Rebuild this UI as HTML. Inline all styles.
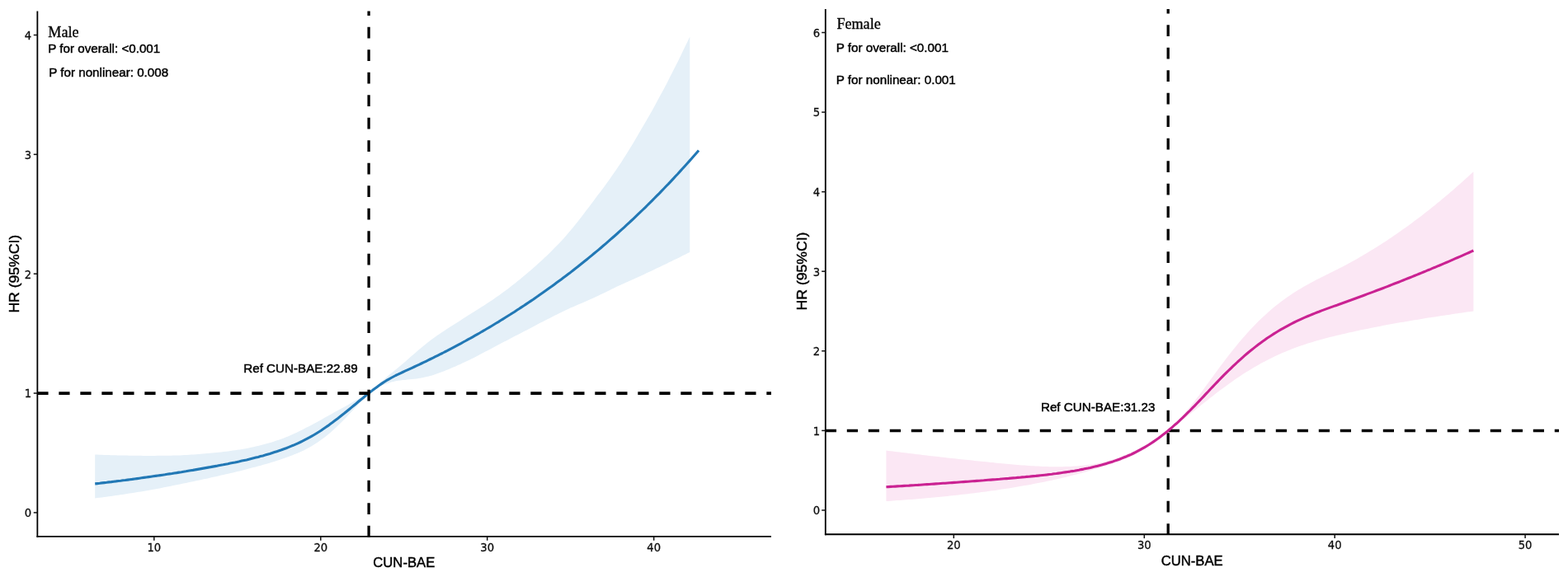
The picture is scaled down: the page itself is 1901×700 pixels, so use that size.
<!DOCTYPE html>
<html lang="en">
<head>
<meta charset="utf-8">
<title>Restricted cubic spline: CUN-BAE and HR (95%CI) by sex</title>
<style>
html,body{margin:0;padding:0;background:#fff;}
body{width:1901px;height:700px;overflow:hidden;}
svg{display:block;font-family:"Liberation Sans", Arial, Helvetica, sans-serif;}
</style>
</head>
<body>
<svg width="1901" height="700" viewBox="0 0 1901 700">
<rect x="0" y="0" width="1901" height="700" fill="#ffffff"/>
<g id="male">
<path d="M115.2,551.4 L118.0,551.6 L120.8,551.7 L123.6,551.8 L126.3,551.9 L129.1,552.0 L131.9,552.1 L134.7,552.2 L137.5,552.2 L140.3,552.3 L143.0,552.4 L145.8,552.5 L148.6,552.5 L151.4,552.6 L154.2,552.6 L157.0,552.7 L159.7,552.7 L162.5,552.8 L165.3,552.8 L168.1,552.8 L170.9,552.8 L173.7,552.9 L176.5,552.9 L179.2,552.9 L182.0,552.9 L184.8,552.9 L187.6,552.9 L190.4,552.8 L193.2,552.8 L195.9,552.8 L198.7,552.8 L201.5,552.8 L204.3,552.7 L207.1,552.7 L209.9,552.6 L212.6,552.6 L215.4,552.5 L218.2,552.4 L221.0,552.2 L223.8,552.1 L226.6,552.0 L229.4,551.8 L232.1,551.6 L234.9,551.4 L237.7,551.2 L240.5,551.0 L243.3,550.8 L246.1,550.6 L248.8,550.3 L251.6,550.1 L254.4,549.8 L257.2,549.5 L260.0,549.3 L262.8,549.0 L265.5,548.7 L268.3,548.4 L271.1,548.0 L273.9,547.7 L276.7,547.4 L279.5,547.0 L282.3,546.6 L285.0,546.2 L287.8,545.8 L290.6,545.4 L293.4,544.9 L296.2,544.4 L299.0,543.9 L301.7,543.4 L304.5,542.8 L307.3,542.2 L310.1,541.6 L312.9,541.0 L315.7,540.3 L318.4,539.6 L321.2,538.8 L324.0,538.1 L326.8,537.2 L329.6,536.4 L332.4,535.5 L335.1,534.6 L337.9,533.7 L340.7,532.7 L343.5,531.7 L346.3,530.6 L349.1,529.5 L351.9,528.3 L354.6,527.0 L357.4,525.8 L360.2,524.5 L363.0,523.1 L365.8,521.7 L368.6,520.3 L371.3,518.8 L374.1,517.4 L376.9,515.9 L379.7,514.5 L382.5,513.0 L385.3,511.5 L388.0,510.0 L390.8,508.4 L393.6,506.8 L396.4,505.2 L399.2,503.7 L402.0,502.2 L404.8,500.6 L407.5,499.1 L410.3,497.6 L413.1,496.0 L415.9,494.5 L418.7,492.9 L421.5,491.4 L424.2,489.8 L427.0,488.2 L429.8,486.6 L432.6,485.0 L435.4,483.4 L438.2,481.9 L440.9,480.6 L443.7,479.2 L446.5,477.5 L447.1,477.1 L449.3,475.2 L452.1,472.8 L454.9,470.2 L457.7,467.5 L460.4,464.9 L463.2,462.3 L466.0,459.8 L468.8,457.5 L471.6,455.1 L474.4,452.8 L477.1,450.6 L479.9,448.3 L482.7,446.0 L485.5,443.7 L488.3,441.3 L491.1,438.9 L493.8,436.5 L496.6,434.1 L499.4,431.6 L502.2,429.2 L505.0,426.7 L507.8,424.3 L510.6,422.0 L513.3,419.7 L516.1,417.4 L518.9,415.2 L521.7,413.1 L524.5,411.0 L527.3,409.1 L530.0,407.1 L532.8,405.2 L535.6,403.3 L538.4,401.5 L541.2,399.6 L544.0,397.8 L546.7,396.1 L549.5,394.3 L552.3,392.5 L555.1,390.7 L557.9,388.9 L560.7,387.1 L563.5,385.3 L566.2,383.5 L569.0,381.7 L571.8,380.0 L574.6,378.2 L577.4,376.5 L580.2,374.7 L582.9,373.0 L585.7,371.2 L588.5,369.4 L591.3,367.6 L594.1,365.8 L596.9,363.9 L599.6,362.0 L602.4,360.1 L605.2,358.2 L608.0,356.1 L610.8,354.1 L613.6,352.0 L616.4,349.9 L619.1,347.8 L621.9,345.6 L624.7,343.4 L627.5,341.1 L630.3,338.9 L633.1,336.6 L635.8,334.3 L638.6,332.0 L641.4,329.6 L644.2,327.2 L647.0,324.8 L649.8,322.3 L652.5,319.8 L655.3,317.3 L658.1,314.7 L660.9,312.1 L663.7,309.4 L666.5,306.7 L669.2,303.9 L672.0,301.1 L674.8,298.2 L677.6,295.4 L680.4,292.4 L683.2,289.4 L686.0,286.3 L688.7,283.1 L691.5,279.8 L694.3,276.5 L697.1,273.0 L699.9,269.5 L702.7,266.0 L705.4,262.4 L708.2,258.7 L711.0,255.1 L713.8,251.4 L716.6,247.7 L719.4,244.0 L722.1,240.3 L724.9,236.6 L727.7,232.9 L730.5,229.2 L733.3,225.4 L736.1,221.5 L738.9,217.7 L741.6,213.8 L744.4,209.8 L747.2,205.7 L750.0,201.6 L752.8,197.4 L755.6,193.1 L758.3,188.7 L761.1,184.3 L763.9,179.7 L766.7,175.2 L769.5,170.5 L772.3,165.8 L775.0,161.1 L777.8,156.3 L780.6,151.5 L783.4,146.7 L786.2,141.8 L789.0,136.9 L791.8,131.9 L794.5,126.9 L797.3,121.8 L800.1,116.6 L802.9,111.5 L805.7,106.2 L808.5,100.9 L811.2,95.5 L814.0,90.1 L816.8,84.6 L819.6,79.1 L822.4,73.5 L825.2,67.8 L827.9,62.1 L830.7,56.3 L833.5,50.5 L836.3,44.6 L836.3,305.9 L833.5,307.3 L830.7,308.7 L827.9,310.1 L825.2,311.5 L822.4,312.9 L819.6,314.2 L816.8,315.6 L814.0,316.9 L811.2,318.3 L808.5,319.7 L805.7,321.0 L802.9,322.3 L800.1,323.7 L797.3,325.0 L794.5,326.3 L791.8,327.7 L789.0,329.0 L786.2,330.3 L783.4,331.6 L780.6,332.9 L777.8,334.2 L775.0,335.4 L772.3,336.7 L769.5,337.9 L766.7,339.2 L763.9,340.4 L761.1,341.7 L758.3,342.9 L755.6,344.2 L752.8,345.5 L750.0,346.8 L747.2,348.1 L744.4,349.4 L741.6,350.8 L738.9,352.2 L736.1,353.5 L733.3,354.9 L730.5,356.3 L727.7,357.6 L724.9,358.9 L722.1,360.3 L719.4,361.6 L716.6,362.8 L713.8,364.1 L711.0,365.3 L708.2,366.5 L705.4,367.7 L702.7,368.8 L699.9,370.0 L697.1,371.2 L694.3,372.4 L691.5,373.6 L688.7,374.9 L686.0,376.2 L683.2,377.5 L680.4,378.9 L677.6,380.3 L674.8,381.7 L672.0,383.1 L669.2,384.5 L666.5,385.9 L663.7,387.3 L660.9,388.7 L658.1,390.2 L655.3,391.6 L652.5,393.0 L649.8,394.5 L647.0,396.0 L644.2,397.4 L641.4,398.9 L638.6,400.4 L635.8,401.8 L633.1,403.3 L630.3,404.7 L627.5,406.2 L624.7,407.6 L621.9,409.1 L619.1,410.5 L616.4,412.0 L613.6,413.4 L610.8,414.8 L608.0,416.3 L605.2,417.7 L602.4,419.2 L599.6,420.7 L596.9,422.2 L594.1,423.7 L591.3,425.2 L588.5,426.6 L585.7,428.1 L582.9,429.6 L580.2,431.1 L577.4,432.5 L574.6,433.9 L571.8,435.3 L569.0,436.7 L566.2,438.0 L563.5,439.3 L560.7,440.6 L557.9,441.9 L555.1,443.1 L552.3,444.4 L549.5,445.6 L546.7,446.8 L544.0,448.0 L541.2,449.1 L538.4,450.2 L535.6,451.3 L532.8,452.3 L530.0,453.3 L527.3,454.3 L524.5,455.2 L521.7,456.0 L518.9,456.7 L516.1,457.3 L513.3,457.9 L510.6,458.5 L507.8,459.0 L505.0,459.4 L502.2,459.7 L499.4,460.0 L496.6,460.3 L493.8,460.6 L491.1,460.9 L488.3,461.1 L485.5,461.4 L482.7,461.8 L479.9,462.3 L477.1,462.9 L474.4,463.6 L471.6,464.5 L468.8,465.5 L466.0,466.6 L463.2,467.8 L460.4,469.1 L457.7,470.4 L454.9,471.9 L452.1,473.5 L449.3,475.4 L447.1,477.1 L446.5,477.5 L443.7,480.3 L440.9,483.4 L438.2,486.7 L435.4,489.7 L432.6,492.7 L429.8,495.7 L427.0,498.6 L424.2,501.6 L421.5,504.5 L418.7,507.4 L415.9,510.3 L413.1,513.1 L410.3,515.8 L407.5,518.4 L404.8,521.0 L402.0,523.5 L399.2,525.9 L396.4,528.2 L393.6,530.4 L390.8,532.5 L388.0,534.5 L385.3,536.4 L382.5,538.3 L379.7,540.0 L376.9,541.7 L374.1,543.3 L371.3,544.8 L368.6,546.2 L365.8,547.5 L363.0,548.8 L360.2,550.0 L357.4,551.1 L354.6,552.2 L351.9,553.3 L349.1,554.3 L346.3,555.3 L343.5,556.3 L340.7,557.3 L337.9,558.2 L335.1,559.1 L332.4,560.0 L329.6,560.8 L326.8,561.7 L324.0,562.5 L321.2,563.3 L318.4,564.1 L315.7,564.9 L312.9,565.6 L310.1,566.4 L307.3,567.1 L304.5,567.8 L301.7,568.6 L299.0,569.3 L296.2,570.0 L293.4,570.7 L290.6,571.4 L287.8,572.0 L285.0,572.7 L282.3,573.4 L279.5,574.0 L276.7,574.7 L273.9,575.3 L271.1,576.0 L268.3,576.6 L265.5,577.3 L262.8,577.9 L260.0,578.5 L257.2,579.1 L254.4,579.7 L251.6,580.4 L248.8,581.0 L246.1,581.6 L243.3,582.2 L240.5,582.8 L237.7,583.3 L234.9,583.9 L232.1,584.5 L229.4,585.1 L226.6,585.7 L223.8,586.2 L221.0,586.8 L218.2,587.4 L215.4,588.0 L212.6,588.5 L209.9,589.1 L207.1,589.7 L204.3,590.2 L201.5,590.8 L198.7,591.3 L195.9,591.9 L193.2,592.4 L190.4,592.9 L187.6,593.4 L184.8,594.0 L182.0,594.5 L179.2,594.9 L176.5,595.4 L173.7,595.9 L170.9,596.4 L168.1,596.8 L165.3,597.3 L162.5,597.8 L159.7,598.2 L157.0,598.6 L154.2,599.1 L151.4,599.5 L148.6,599.9 L145.8,600.3 L143.0,600.7 L140.3,601.1 L137.5,601.5 L134.7,601.9 L131.9,602.3 L129.1,602.7 L126.3,603.1 L123.6,603.4 L120.8,603.8 L118.0,604.1 L115.2,604.5Z" fill="#e5f0f8" stroke="none"/>
<path d="M115.2,586.9 L118.0,586.6 L120.9,586.3 L123.7,585.9 L126.5,585.6 L129.3,585.3 L132.2,584.9 L135.0,584.6 L137.8,584.2 L140.6,583.9 L143.5,583.5 L146.3,583.2 L149.1,582.8 L151.9,582.5 L154.8,582.1 L157.6,581.7 L160.4,581.4 L163.2,581.0 L166.1,580.6 L168.9,580.2 L171.7,579.8 L174.5,579.4 L177.4,579.0 L180.2,578.6 L183.0,578.2 L185.8,577.8 L188.7,577.4 L191.5,577.0 L194.3,576.6 L197.2,576.2 L200.0,575.8 L202.8,575.3 L205.6,574.9 L208.5,574.5 L211.3,574.0 L214.1,573.6 L216.9,573.1 L219.8,572.7 L222.6,572.2 L225.4,571.8 L228.2,571.3 L231.1,570.8 L233.9,570.4 L236.7,569.9 L239.5,569.4 L242.4,568.9 L245.2,568.4 L248.0,567.9 L250.8,567.4 L253.7,566.9 L256.5,566.4 L259.3,565.9 L262.1,565.4 L265.0,564.8 L267.8,564.3 L270.6,563.8 L273.4,563.2 L276.3,562.7 L279.1,562.1 L281.9,561.5 L284.8,561.0 L287.6,560.4 L290.4,559.8 L293.2,559.1 L296.1,558.5 L298.9,557.9 L301.7,557.2 L304.5,556.5 L307.4,555.8 L310.2,555.1 L313.0,554.4 L315.8,553.6 L318.7,552.9 L321.5,552.1 L324.3,551.2 L327.1,550.4 L330.0,549.5 L332.8,548.6 L335.6,547.7 L338.4,546.8 L341.3,545.8 L344.1,544.7 L346.9,543.7 L349.7,542.6 L352.6,541.4 L355.4,540.3 L358.2,539.1 L361.1,537.8 L363.9,536.5 L366.7,535.1 L369.5,533.7 L372.4,532.2 L375.2,530.7 L378.0,529.1 L380.8,527.5 L383.7,525.7 L386.5,524.0 L389.3,522.2 L392.1,520.3 L395.0,518.3 L397.8,516.4 L400.6,514.3 L403.4,512.3 L406.3,510.1 L409.1,508.0 L411.9,505.8 L414.7,503.5 L417.6,501.3 L420.4,499.0 L423.2,496.7 L426.0,494.4 L428.9,492.0 L431.7,489.7 L434.5,487.3 L437.3,485.0 L440.2,482.7 L443.0,480.3 L445.8,478.1 L448.7,475.8 L451.5,473.6 L454.3,471.5 L457.1,469.4 L460.0,467.3 L462.8,465.4 L465.6,463.5 L468.4,461.7 L471.3,460.1 L474.1,458.5 L476.9,457.0 L479.7,455.5 L482.6,454.2 L485.4,452.8 L488.2,451.5 L491.0,450.2 L493.9,448.9 L496.7,447.6 L499.5,446.3 L502.3,445.0 L505.2,443.7 L508.0,442.4 L510.8,441.0 L513.6,439.7 L516.5,438.3 L519.3,436.9 L522.1,435.5 L525.0,434.2 L527.8,432.7 L530.6,431.3 L533.4,429.9 L536.3,428.5 L539.1,427.0 L541.9,425.6 L544.7,424.1 L547.6,422.6 L550.4,421.1 L553.2,419.6 L556.0,418.1 L558.9,416.6 L561.7,415.0 L564.5,413.5 L567.3,411.9 L570.2,410.4 L573.0,408.8 L575.8,407.2 L578.6,405.6 L581.5,404.0 L584.3,402.3 L587.1,400.7 L589.9,399.0 L592.8,397.4 L595.6,395.7 L598.4,394.0 L601.2,392.3 L604.1,390.6 L606.9,388.8 L609.7,387.1 L612.6,385.3 L615.4,383.5 L618.2,381.8 L621.0,380.0 L623.9,378.2 L626.7,376.3 L629.5,374.5 L632.3,372.6 L635.2,370.8 L638.0,368.9 L640.8,367.0 L643.6,365.1 L646.5,363.2 L649.3,361.2 L652.1,359.3 L654.9,357.3 L657.8,355.3 L660.6,353.3 L663.4,351.3 L666.2,349.3 L669.1,347.3 L671.9,345.2 L674.7,343.1 L677.5,341.0 L680.4,338.9 L683.2,336.8 L686.0,334.7 L688.9,332.5 L691.7,330.4 L694.5,328.2 L697.3,326.0 L700.2,323.8 L703.0,321.5 L705.8,319.3 L708.6,317.0 L711.5,314.7 L714.3,312.4 L717.1,310.1 L719.9,307.8 L722.8,305.4 L725.6,303.1 L728.4,300.7 L731.2,298.3 L734.1,295.8 L736.9,293.4 L739.7,290.9 L742.5,288.5 L745.4,286.0 L748.2,283.5 L751.0,280.9 L753.8,278.4 L756.7,275.8 L759.5,273.2 L762.3,270.6 L765.1,268.0 L768.0,265.3 L770.8,262.6 L773.6,259.9 L776.5,257.2 L779.3,254.5 L782.1,251.8 L784.9,249.0 L787.8,246.2 L790.6,243.4 L793.4,240.5 L796.2,237.7 L799.1,234.8 L801.9,231.9 L804.7,229.0 L807.5,226.0 L810.4,223.1 L813.2,220.1 L816.0,217.1 L818.8,214.0 L821.7,211.0 L824.5,207.9 L827.3,204.8 L830.1,201.7 L833.0,198.5 L835.8,195.4 L838.6,192.2 L841.4,189.0 L844.3,185.7 L847.1,182.5" fill="none" stroke="#2278b5" stroke-width="3.1" stroke-linecap="butt" stroke-linejoin="round"/>
<line x1="45.35" y1="477.05" x2="935" y2="477.05" stroke="#000" stroke-width="3.7" stroke-dasharray="13.2 12.8"/>
<line x1="447.1" y1="651.6" x2="447.1" y2="13.5" stroke="#000" stroke-width="3.3" stroke-dasharray="13.75 13.75"/>
<line x1="45.35" y1="13.5" x2="45.35" y2="651.85" stroke="#000" stroke-width="1.8"/>
<line x1="44.45" y1="650.9" x2="935" y2="650.9" stroke="#000" stroke-width="1.9"/>
<line x1="40.75" y1="42.5" x2="45.35" y2="42.5" stroke="#111" stroke-width="1.5"/>
<text transform="translate(38.2,47.8) scale(0.95,1)" text-anchor="end" font-family='"DejaVu Sans", "Liberation Sans", sans-serif' font-size="13.9" fill="#0d0d0d" stroke="#0d0d0d" stroke-width="0.3">4</text>
<line x1="40.75" y1="187.35" x2="45.35" y2="187.35" stroke="#111" stroke-width="1.5"/>
<text transform="translate(38.2,192.7) scale(0.95,1)" text-anchor="end" font-family='"DejaVu Sans", "Liberation Sans", sans-serif' font-size="13.9" fill="#0d0d0d" stroke="#0d0d0d" stroke-width="0.3">3</text>
<line x1="40.75" y1="332.2" x2="45.35" y2="332.2" stroke="#111" stroke-width="1.5"/>
<text transform="translate(38.2,337.5) scale(0.95,1)" text-anchor="end" font-family='"DejaVu Sans", "Liberation Sans", sans-serif' font-size="13.9" fill="#0d0d0d" stroke="#0d0d0d" stroke-width="0.3">2</text>
<line x1="40.75" y1="477.05" x2="45.35" y2="477.05" stroke="#111" stroke-width="1.5"/>
<text transform="translate(38.2,482.4) scale(0.95,1)" text-anchor="end" font-family='"DejaVu Sans", "Liberation Sans", sans-serif' font-size="13.9" fill="#0d0d0d" stroke="#0d0d0d" stroke-width="0.3">1</text>
<line x1="40.75" y1="621.9" x2="45.35" y2="621.9" stroke="#111" stroke-width="1.5"/>
<text transform="translate(38.2,627.2) scale(0.95,1)" text-anchor="end" font-family='"DejaVu Sans", "Liberation Sans", sans-serif' font-size="13.9" fill="#0d0d0d" stroke="#0d0d0d" stroke-width="0.3">0</text>
<line x1="186.8" y1="650.9" x2="186.8" y2="655.6999999999999" stroke="#111" stroke-width="1.5"/>
<text transform="translate(186.8,669.1) scale(0.95,1)" text-anchor="middle" font-family='"DejaVu Sans", "Liberation Sans", sans-serif' font-size="13.9" fill="#0d0d0d" stroke="#0d0d0d" stroke-width="0.3">10</text>
<line x1="388.8" y1="650.9" x2="388.8" y2="655.6999999999999" stroke="#111" stroke-width="1.5"/>
<text transform="translate(388.8,669.1) scale(0.95,1)" text-anchor="middle" font-family='"DejaVu Sans", "Liberation Sans", sans-serif' font-size="13.9" fill="#0d0d0d" stroke="#0d0d0d" stroke-width="0.3">20</text>
<line x1="590.7" y1="650.9" x2="590.7" y2="655.6999999999999" stroke="#111" stroke-width="1.5"/>
<text transform="translate(590.7,669.1) scale(0.95,1)" text-anchor="middle" font-family='"DejaVu Sans", "Liberation Sans", sans-serif' font-size="13.9" fill="#0d0d0d" stroke="#0d0d0d" stroke-width="0.3">30</text>
<line x1="792.7" y1="650.9" x2="792.7" y2="655.6999999999999" stroke="#111" stroke-width="1.5"/>
<text transform="translate(792.7,669.1) scale(0.95,1)" text-anchor="middle" font-family='"DejaVu Sans", "Liberation Sans", sans-serif' font-size="13.9" fill="#0d0d0d" stroke="#0d0d0d" stroke-width="0.3">40</text>
<text transform="translate(489.8,688.2) scale(0.98,1)" text-anchor="middle" font-size="17" fill="#000" stroke="#000" stroke-width="0.45">CUN-BAE</text>
<text transform="translate(22.9,332.2) rotate(-90) scale(1.035,1)" text-anchor="middle" font-size="17" fill="#000" stroke="#000" stroke-width="0.45">HR (95%CI)</text>
<text transform="translate(58.3,44.8) scale(0.98,1)" font-family='"Liberation Serif", "Times New Roman", serif' font-size="18.5" fill="#000" stroke="#000" stroke-width="0.3">Male</text>
<text x="58.2" y="64.1" font-size="15.2" fill="#000" stroke="#000" stroke-width="0.45">P for overall: &lt;0.001</text>
<text x="59.2" y="93.05" font-size="15.2" fill="#000" stroke="#000" stroke-width="0.45">P for nonlinear: 0.008</text>
<text x="433.7" y="452.4" text-anchor="end" font-size="15.2" fill="#000" stroke="#000" stroke-width="0.45">Ref CUN-BAE:22.89</text>
</g>
<g id="female">
<path d="M1074.4,546.6 L1077.1,546.9 L1079.9,547.3 L1082.6,547.6 L1085.4,548.0 L1088.1,548.3 L1090.9,548.6 L1093.6,549.0 L1096.4,549.3 L1099.1,549.6 L1101.9,550.0 L1104.6,550.3 L1107.4,550.6 L1110.1,551.0 L1112.9,551.3 L1115.6,551.6 L1118.4,551.9 L1121.1,552.2 L1123.9,552.6 L1126.6,552.9 L1129.4,553.2 L1132.1,553.5 L1134.9,553.8 L1137.6,554.1 L1140.4,554.4 L1143.1,554.8 L1145.9,555.1 L1148.6,555.4 L1151.4,555.7 L1154.1,556.0 L1156.9,556.3 L1159.6,556.6 L1162.4,556.9 L1165.1,557.2 L1167.9,557.5 L1170.6,557.7 L1173.4,558.0 L1176.1,558.3 L1178.9,558.6 L1181.6,558.9 L1184.4,559.2 L1187.1,559.5 L1189.9,559.7 L1192.6,560.0 L1195.4,560.3 L1198.1,560.6 L1200.9,560.9 L1203.6,561.1 L1206.4,561.4 L1209.1,561.7 L1211.9,561.9 L1214.6,562.2 L1217.3,562.5 L1220.1,562.7 L1222.8,563.0 L1225.6,563.2 L1228.3,563.5 L1231.1,563.7 L1233.8,564.0 L1236.6,564.2 L1239.3,564.4 L1242.1,564.6 L1244.8,564.8 L1247.6,565.0 L1250.3,565.2 L1253.1,565.3 L1255.8,565.5 L1258.6,565.6 L1261.3,565.8 L1264.1,565.9 L1266.8,566.0 L1269.6,566.1 L1272.3,566.2 L1275.1,566.2 L1277.8,566.2 L1280.6,566.3 L1283.3,566.3 L1286.1,566.2 L1288.8,566.2 L1291.6,566.1 L1294.3,566.0 L1297.1,565.9 L1299.8,565.8 L1302.6,565.6 L1305.3,565.4 L1308.1,565.2 L1310.8,565.0 L1313.6,564.7 L1316.3,564.4 L1319.1,564.0 L1321.8,563.7 L1324.6,563.2 L1327.3,562.8 L1330.1,562.3 L1332.8,561.7 L1335.6,561.1 L1338.3,560.4 L1341.1,559.7 L1343.8,559.0 L1346.6,558.2 L1349.3,557.3 L1352.1,556.4 L1354.8,555.5 L1357.6,554.5 L1360.3,553.4 L1363.0,552.3 L1365.8,551.2 L1368.5,550.0 L1371.3,548.7 L1374.0,547.5 L1376.8,546.1 L1379.5,544.8 L1382.3,543.4 L1385.0,541.9 L1387.8,540.4 L1390.5,538.9 L1393.3,537.3 L1396.0,535.7 L1398.8,534.0 L1401.5,532.3 L1404.3,530.6 L1407.0,528.8 L1409.8,526.9 L1412.5,525.1 L1415.3,523.1 L1416.2,522.5 L1418.0,520.8 L1420.8,518.1 L1423.5,515.3 L1426.3,512.4 L1429.0,509.5 L1431.8,506.4 L1434.5,503.3 L1437.3,500.1 L1440.0,496.8 L1442.8,493.5 L1445.5,490.0 L1448.3,486.5 L1451.0,483.0 L1453.8,479.4 L1456.5,475.7 L1459.3,472.0 L1462.0,468.3 L1464.8,464.5 L1467.5,460.7 L1470.3,456.9 L1473.0,453.2 L1475.8,449.4 L1478.5,445.7 L1481.3,442.0 L1484.0,438.4 L1486.8,434.8 L1489.5,431.2 L1492.3,427.7 L1495.0,424.3 L1497.8,420.9 L1500.5,417.6 L1503.2,414.3 L1506.0,411.1 L1508.7,407.9 L1511.5,404.8 L1514.2,401.8 L1517.0,398.8 L1519.7,395.9 L1522.5,393.1 L1525.2,390.3 L1528.0,387.6 L1530.7,385.0 L1533.5,382.4 L1536.2,379.9 L1539.0,377.4 L1541.7,375.1 L1544.5,372.8 L1547.2,370.5 L1550.0,368.4 L1552.7,366.2 L1555.5,364.2 L1558.2,362.2 L1561.0,360.2 L1563.7,358.4 L1566.5,356.5 L1569.2,354.7 L1572.0,353.0 L1574.7,351.3 L1577.5,349.7 L1580.2,348.1 L1583.0,346.5 L1585.7,345.0 L1588.5,343.5 L1591.2,342.0 L1594.0,340.5 L1596.7,339.1 L1599.5,337.7 L1602.2,336.3 L1605.0,334.9 L1607.7,333.6 L1610.5,332.2 L1613.2,330.8 L1616.0,329.5 L1618.7,328.1 L1621.5,326.7 L1624.2,325.3 L1627.0,323.9 L1629.7,322.4 L1632.5,321.0 L1635.2,319.5 L1638.0,318.0 L1640.7,316.5 L1643.5,315.0 L1646.2,313.4 L1648.9,311.8 L1651.7,310.2 L1654.4,308.6 L1657.2,307.0 L1659.9,305.3 L1662.7,303.6 L1665.4,301.9 L1668.2,300.2 L1670.9,298.5 L1673.7,296.7 L1676.4,295.0 L1679.2,293.2 L1681.9,291.4 L1684.7,289.5 L1687.4,287.7 L1690.2,285.8 L1692.9,283.9 L1695.7,282.0 L1698.4,280.1 L1701.2,278.1 L1703.9,276.2 L1706.7,274.2 L1709.4,272.2 L1712.2,270.2 L1714.9,268.1 L1717.7,266.0 L1720.4,264.0 L1723.2,261.9 L1725.9,259.7 L1728.7,257.6 L1731.4,255.4 L1734.2,253.3 L1736.9,251.1 L1739.7,248.9 L1742.4,246.6 L1745.2,244.4 L1747.9,242.1 L1750.7,239.8 L1753.4,237.5 L1756.2,235.2 L1758.9,232.8 L1761.7,230.4 L1764.4,228.0 L1767.2,225.6 L1769.9,223.2 L1772.7,220.7 L1775.4,218.3 L1778.2,215.8 L1780.9,213.3 L1783.7,210.8 L1786.4,208.2 L1786.4,377.5 L1783.7,377.9 L1780.9,378.3 L1778.2,378.6 L1775.4,379.0 L1772.7,379.4 L1769.9,379.8 L1767.2,380.2 L1764.4,380.6 L1761.7,381.0 L1758.9,381.4 L1756.2,381.9 L1753.4,382.3 L1750.7,382.7 L1747.9,383.1 L1745.2,383.5 L1742.4,383.9 L1739.7,384.4 L1736.9,384.8 L1734.2,385.2 L1731.4,385.6 L1728.7,386.1 L1725.9,386.5 L1723.2,387.0 L1720.4,387.4 L1717.7,387.9 L1714.9,388.3 L1712.2,388.8 L1709.4,389.2 L1706.7,389.7 L1703.9,390.2 L1701.2,390.7 L1698.4,391.1 L1695.7,391.6 L1692.9,392.1 L1690.2,392.6 L1687.4,393.1 L1684.7,393.6 L1681.9,394.1 L1679.2,394.6 L1676.4,395.1 L1673.7,395.7 L1670.9,396.2 L1668.2,396.7 L1665.4,397.3 L1662.7,397.8 L1659.9,398.4 L1657.2,398.9 L1654.4,399.5 L1651.7,400.1 L1648.9,400.6 L1646.2,401.2 L1643.5,401.8 L1640.7,402.4 L1638.0,403.0 L1635.2,403.6 L1632.5,404.3 L1629.7,404.9 L1627.0,405.5 L1624.2,406.2 L1621.5,406.8 L1618.7,407.5 L1616.0,408.2 L1613.2,408.8 L1610.5,409.5 L1607.7,410.2 L1605.0,411.0 L1602.2,411.7 L1599.5,412.5 L1596.7,413.3 L1594.0,414.1 L1591.2,414.9 L1588.5,415.7 L1585.7,416.6 L1583.0,417.5 L1580.2,418.4 L1577.5,419.3 L1574.7,420.3 L1572.0,421.3 L1569.2,422.3 L1566.5,423.3 L1563.7,424.4 L1561.0,425.5 L1558.2,426.7 L1555.5,427.8 L1552.7,429.0 L1550.0,430.3 L1547.2,431.5 L1544.5,432.8 L1541.7,434.2 L1539.0,435.5 L1536.2,436.9 L1533.5,438.4 L1530.7,439.8 L1528.0,441.3 L1525.2,442.9 L1522.5,444.4 L1519.7,446.0 L1517.0,447.7 L1514.2,449.4 L1511.5,451.1 L1508.7,452.8 L1506.0,454.6 L1503.2,456.4 L1500.5,458.2 L1497.8,460.1 L1495.0,462.0 L1492.3,463.9 L1489.5,465.9 L1486.8,467.9 L1484.0,469.9 L1481.3,472.0 L1478.5,474.0 L1475.8,476.1 L1473.0,478.3 L1470.3,480.4 L1467.5,482.5 L1464.8,484.7 L1462.0,486.9 L1459.3,489.1 L1456.5,491.3 L1453.8,493.5 L1451.0,495.7 L1448.3,497.9 L1445.5,500.1 L1442.8,502.3 L1440.0,504.5 L1437.3,506.7 L1434.5,508.8 L1431.8,511.0 L1429.0,513.1 L1426.3,515.1 L1423.5,517.2 L1420.8,519.2 L1418.0,521.2 L1416.2,522.5 L1415.3,523.4 L1412.5,525.9 L1409.8,528.3 L1407.0,530.7 L1404.3,532.9 L1401.5,535.1 L1398.8,537.2 L1396.0,539.2 L1393.3,541.1 L1390.5,543.0 L1387.8,544.7 L1385.0,546.4 L1382.3,548.0 L1379.5,549.6 L1376.8,551.0 L1374.0,552.4 L1371.3,553.7 L1368.5,554.9 L1365.8,556.1 L1363.0,557.2 L1360.3,558.3 L1357.6,559.4 L1354.8,560.4 L1352.1,561.3 L1349.3,562.3 L1346.6,563.2 L1343.8,564.1 L1341.1,565.0 L1338.3,565.8 L1335.6,566.7 L1332.8,567.5 L1330.1,568.4 L1327.3,569.2 L1324.6,570.0 L1321.8,570.8 L1319.1,571.6 L1316.3,572.4 L1313.6,573.1 L1310.8,573.9 L1308.1,574.6 L1305.3,575.4 L1302.6,576.1 L1299.8,576.8 L1297.1,577.5 L1294.3,578.2 L1291.6,578.9 L1288.8,579.5 L1286.1,580.2 L1283.3,580.8 L1280.6,581.4 L1277.8,582.1 L1275.1,582.7 L1272.3,583.3 L1269.6,583.8 L1266.8,584.4 L1264.1,585.0 L1261.3,585.5 L1258.6,586.1 L1255.8,586.6 L1253.1,587.1 L1250.3,587.7 L1247.6,588.2 L1244.8,588.7 L1242.1,589.1 L1239.3,589.6 L1236.6,590.1 L1233.8,590.6 L1231.1,591.0 L1228.3,591.5 L1225.6,591.9 L1222.8,592.4 L1220.1,592.8 L1217.3,593.2 L1214.6,593.6 L1211.9,594.1 L1209.1,594.5 L1206.4,594.9 L1203.6,595.2 L1200.9,595.6 L1198.1,596.0 L1195.4,596.4 L1192.6,596.8 L1189.9,597.1 L1187.1,597.5 L1184.4,597.8 L1181.6,598.2 L1178.9,598.5 L1176.1,598.8 L1173.4,599.2 L1170.6,599.5 L1167.9,599.8 L1165.1,600.1 L1162.4,600.4 L1159.6,600.7 L1156.9,601.0 L1154.1,601.3 L1151.4,601.6 L1148.6,601.9 L1145.9,602.2 L1143.1,602.5 L1140.4,602.7 L1137.6,603.0 L1134.9,603.3 L1132.1,603.5 L1129.4,603.8 L1126.6,604.0 L1123.9,604.3 L1121.1,604.5 L1118.4,604.7 L1115.6,605.0 L1112.9,605.2 L1110.1,605.4 L1107.4,605.7 L1104.6,605.9 L1101.9,606.1 L1099.1,606.3 L1096.4,606.5 L1093.6,606.7 L1090.9,606.9 L1088.1,607.1 L1085.4,607.3 L1082.6,607.5 L1079.9,607.7 L1077.1,607.9 L1074.4,608.1Z" fill="#fbe7f4" stroke="none"/>
<line x1="1000.8" y1="522.5" x2="1890" y2="522.5" stroke="#000" stroke-width="3.7" stroke-dasharray="13.2 12.8"/>
<line x1="1416.2" y1="649.0" x2="1416.2" y2="11" stroke="#000" stroke-width="3.3" stroke-dasharray="13.75 13.75"/>
<path d="M1074.4,590.8 L1077.1,590.6 L1079.9,590.4 L1082.6,590.3 L1085.4,590.1 L1088.1,589.9 L1090.9,589.8 L1093.6,589.6 L1096.4,589.4 L1099.1,589.2 L1101.9,589.1 L1104.6,588.9 L1107.4,588.7 L1110.1,588.5 L1112.9,588.4 L1115.6,588.2 L1118.4,588.0 L1121.1,587.8 L1123.9,587.6 L1126.6,587.5 L1129.4,587.3 L1132.1,587.1 L1134.9,586.9 L1137.6,586.7 L1140.4,586.5 L1143.1,586.3 L1145.9,586.2 L1148.6,586.0 L1151.4,585.8 L1154.1,585.6 L1156.9,585.4 L1159.6,585.2 L1162.4,585.0 L1165.1,584.8 L1167.9,584.6 L1170.6,584.4 L1173.4,584.2 L1176.1,584.0 L1178.9,583.8 L1181.6,583.6 L1184.4,583.4 L1187.1,583.2 L1189.9,583.0 L1192.6,582.8 L1195.4,582.5 L1198.1,582.3 L1200.9,582.1 L1203.6,581.9 L1206.4,581.7 L1209.1,581.5 L1211.9,581.3 L1214.6,581.0 L1217.3,580.8 L1220.1,580.6 L1222.8,580.4 L1225.6,580.1 L1228.3,579.9 L1231.1,579.7 L1233.8,579.4 L1236.6,579.2 L1239.3,578.9 L1242.1,578.7 L1244.8,578.4 L1247.6,578.2 L1250.3,577.9 L1253.1,577.6 L1255.8,577.4 L1258.6,577.1 L1261.3,576.8 L1264.1,576.5 L1266.8,576.2 L1269.6,575.9 L1272.3,575.5 L1275.1,575.2 L1277.8,574.8 L1280.6,574.5 L1283.3,574.1 L1286.1,573.7 L1288.8,573.3 L1291.6,572.9 L1294.3,572.5 L1297.1,572.1 L1299.8,571.6 L1302.6,571.2 L1305.3,570.7 L1308.1,570.2 L1310.8,569.6 L1313.6,569.1 L1316.3,568.5 L1319.1,568.0 L1321.8,567.4 L1324.6,566.7 L1327.3,566.1 L1330.1,565.4 L1332.8,564.7 L1335.6,564.0 L1338.3,563.2 L1341.1,562.4 L1343.8,561.6 L1346.6,560.7 L1349.3,559.9 L1352.1,558.9 L1354.8,558.0 L1357.6,557.0 L1360.3,555.9 L1363.0,554.8 L1365.8,553.7 L1368.5,552.5 L1371.3,551.3 L1374.0,550.0 L1376.8,548.6 L1379.5,547.2 L1382.3,545.7 L1385.0,544.2 L1387.8,542.6 L1390.5,541.0 L1393.3,539.3 L1396.0,537.5 L1398.8,535.6 L1401.5,533.7 L1404.3,531.8 L1407.0,529.7 L1409.8,527.6 L1412.5,525.5 L1415.3,523.3 L1418.0,521.0 L1420.8,518.6 L1423.5,516.2 L1426.3,513.8 L1429.0,511.3 L1431.8,508.7 L1434.5,506.1 L1437.3,503.4 L1440.0,500.7 L1442.8,498.0 L1445.5,495.2 L1448.3,492.4 L1451.0,489.5 L1453.8,486.6 L1456.5,483.7 L1459.3,480.8 L1462.0,477.9 L1464.8,475.0 L1467.5,472.0 L1470.3,469.1 L1473.0,466.2 L1475.8,463.3 L1478.5,460.5 L1481.3,457.7 L1484.0,454.9 L1486.8,452.2 L1489.5,449.5 L1492.3,446.8 L1495.0,444.2 L1497.8,441.6 L1500.5,439.0 L1503.2,436.6 L1506.0,434.1 L1508.7,431.7 L1511.5,429.3 L1514.2,427.0 L1517.0,424.8 L1519.7,422.6 L1522.5,420.4 L1525.2,418.3 L1528.0,416.2 L1530.7,414.2 L1533.5,412.3 L1536.2,410.3 L1539.0,408.5 L1541.7,406.7 L1544.5,404.9 L1547.2,403.2 L1550.0,401.5 L1552.7,399.9 L1555.5,398.3 L1558.2,396.8 L1561.0,395.3 L1563.7,393.8 L1566.5,392.4 L1569.2,391.0 L1572.0,389.7 L1574.7,388.4 L1577.5,387.1 L1580.2,385.9 L1583.0,384.7 L1585.7,383.5 L1588.5,382.3 L1591.2,381.2 L1594.0,380.1 L1596.7,379.0 L1599.5,378.0 L1602.2,376.9 L1605.0,375.9 L1607.7,374.9 L1610.5,373.9 L1613.2,372.9 L1616.0,371.9 L1618.7,370.9 L1621.5,370.0 L1624.2,369.0 L1627.0,368.0 L1629.7,367.0 L1632.5,366.0 L1635.2,365.0 L1638.0,364.0 L1640.7,363.0 L1643.5,362.0 L1646.2,361.0 L1648.9,360.0 L1651.7,359.0 L1654.4,358.0 L1657.2,356.9 L1659.9,355.9 L1662.7,354.9 L1665.4,353.9 L1668.2,352.8 L1670.9,351.8 L1673.7,350.7 L1676.4,349.7 L1679.2,348.6 L1681.9,347.6 L1684.7,346.5 L1687.4,345.4 L1690.2,344.3 L1692.9,343.3 L1695.7,342.2 L1698.4,341.1 L1701.2,340.0 L1703.9,338.9 L1706.7,337.8 L1709.4,336.7 L1712.2,335.6 L1714.9,334.5 L1717.7,333.4 L1720.4,332.3 L1723.2,331.1 L1725.9,330.0 L1728.7,328.9 L1731.4,327.7 L1734.2,326.6 L1736.9,325.4 L1739.7,324.3 L1742.4,323.1 L1745.2,322.0 L1747.9,320.8 L1750.7,319.6 L1753.4,318.5 L1756.2,317.3 L1758.9,316.1 L1761.7,314.9 L1764.4,313.7 L1767.2,312.5 L1769.9,311.3 L1772.7,310.1 L1775.4,308.9 L1778.2,307.7 L1780.9,306.5 L1783.7,305.2 L1786.4,304.0" fill="none" stroke="#ca2292" stroke-width="3.1" stroke-linecap="butt" stroke-linejoin="round"/>
<line x1="1000.8" y1="11" x2="1000.8" y2="649.25" stroke="#000" stroke-width="1.8"/>
<line x1="999.9" y1="648.3" x2="1890" y2="648.3" stroke="#000" stroke-width="1.9"/>
<line x1="996.1999999999999" y1="39.5" x2="1000.8" y2="39.5" stroke="#111" stroke-width="1.5"/>
<text transform="translate(994.2,44.8) scale(0.95,1)" text-anchor="end" font-family='"DejaVu Sans", "Liberation Sans", sans-serif' font-size="13.9" fill="#0d0d0d" stroke="#0d0d0d" stroke-width="0.3">6</text>
<line x1="996.1999999999999" y1="136.1" x2="1000.8" y2="136.1" stroke="#111" stroke-width="1.5"/>
<text transform="translate(994.2,141.4) scale(0.95,1)" text-anchor="end" font-family='"DejaVu Sans", "Liberation Sans", sans-serif' font-size="13.9" fill="#0d0d0d" stroke="#0d0d0d" stroke-width="0.3">5</text>
<line x1="996.1999999999999" y1="232.7" x2="1000.8" y2="232.7" stroke="#111" stroke-width="1.5"/>
<text transform="translate(994.2,238.0) scale(0.95,1)" text-anchor="end" font-family='"DejaVu Sans", "Liberation Sans", sans-serif' font-size="13.9" fill="#0d0d0d" stroke="#0d0d0d" stroke-width="0.3">4</text>
<line x1="996.1999999999999" y1="329.2" x2="1000.8" y2="329.2" stroke="#111" stroke-width="1.5"/>
<text transform="translate(994.2,334.5) scale(0.95,1)" text-anchor="end" font-family='"DejaVu Sans", "Liberation Sans", sans-serif' font-size="13.9" fill="#0d0d0d" stroke="#0d0d0d" stroke-width="0.3">3</text>
<line x1="996.1999999999999" y1="425.8" x2="1000.8" y2="425.8" stroke="#111" stroke-width="1.5"/>
<text transform="translate(994.2,431.1) scale(0.95,1)" text-anchor="end" font-family='"DejaVu Sans", "Liberation Sans", sans-serif' font-size="13.9" fill="#0d0d0d" stroke="#0d0d0d" stroke-width="0.3">2</text>
<line x1="996.1999999999999" y1="522.4" x2="1000.8" y2="522.4" stroke="#111" stroke-width="1.5"/>
<text transform="translate(994.2,527.7) scale(0.95,1)" text-anchor="end" font-family='"DejaVu Sans", "Liberation Sans", sans-serif' font-size="13.9" fill="#0d0d0d" stroke="#0d0d0d" stroke-width="0.3">1</text>
<line x1="996.1999999999999" y1="619.0" x2="1000.8" y2="619.0" stroke="#111" stroke-width="1.5"/>
<text transform="translate(994.2,624.3) scale(0.95,1)" text-anchor="end" font-family='"DejaVu Sans", "Liberation Sans", sans-serif' font-size="13.9" fill="#0d0d0d" stroke="#0d0d0d" stroke-width="0.3">0</text>
<line x1="1156.3" y1="648.3" x2="1156.3" y2="653.0999999999999" stroke="#111" stroke-width="1.5"/>
<text transform="translate(1156.3,666.3) scale(0.95,1)" text-anchor="middle" font-family='"DejaVu Sans", "Liberation Sans", sans-serif' font-size="13.9" fill="#0d0d0d" stroke="#0d0d0d" stroke-width="0.3">20</text>
<line x1="1387.3" y1="648.3" x2="1387.3" y2="653.0999999999999" stroke="#111" stroke-width="1.5"/>
<text transform="translate(1387.3,666.3) scale(0.95,1)" text-anchor="middle" font-family='"DejaVu Sans", "Liberation Sans", sans-serif' font-size="13.9" fill="#0d0d0d" stroke="#0d0d0d" stroke-width="0.3">30</text>
<line x1="1618.2" y1="648.3" x2="1618.2" y2="653.0999999999999" stroke="#111" stroke-width="1.5"/>
<text transform="translate(1618.2,666.3) scale(0.95,1)" text-anchor="middle" font-family='"DejaVu Sans", "Liberation Sans", sans-serif' font-size="13.9" fill="#0d0d0d" stroke="#0d0d0d" stroke-width="0.3">40</text>
<line x1="1849.1" y1="648.3" x2="1849.1" y2="653.0999999999999" stroke="#111" stroke-width="1.5"/>
<text transform="translate(1849.1,666.3) scale(0.95,1)" text-anchor="middle" font-family='"DejaVu Sans", "Liberation Sans", sans-serif' font-size="13.9" fill="#0d0d0d" stroke="#0d0d0d" stroke-width="0.3">50</text>
<text transform="translate(1445.2,685.8) scale(0.98,1)" text-anchor="middle" font-size="17" fill="#000" stroke="#000" stroke-width="0.45">CUN-BAE</text>
<text transform="translate(978.2,329) rotate(-90) scale(1.035,1)" text-anchor="middle" font-size="17" fill="#000" stroke="#000" stroke-width="0.45">HR (95%CI)</text>
<text transform="translate(1014.4,35.1) scale(0.98,1)" font-family='"Liberation Serif", "Times New Roman", serif' font-size="18.5" fill="#000" stroke="#000" stroke-width="0.3">Female</text>
<text x="1013.8" y="63.0" font-size="15.2" fill="#000" stroke="#000" stroke-width="0.45">P for overall: &lt;0.001</text>
<text x="1013.8" y="101.7" font-size="15.2" fill="#000" stroke="#000" stroke-width="0.45">P for nonlinear: 0.001</text>
<text x="1400.4" y="499.4" text-anchor="end" font-size="15.2" fill="#000" stroke="#000" stroke-width="0.45">Ref CUN-BAE:31.23</text>
</g>
</svg>
</body>
</html>
